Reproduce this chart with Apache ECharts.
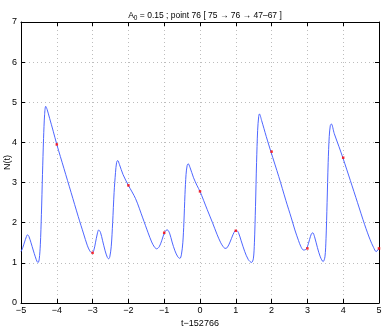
<!DOCTYPE html>
<html>
<head>
<meta charset="utf-8">
<script src="https://cdn.jsdelivr.net/npm/echarts@6/dist/echarts.min.js"></script>
<style>
  html, body { margin: 0; padding: 0; background: #fff; }
  #chart { width: 386px; height: 327px; }
</style>
</head>
<body>
<div id="chart"></div>
<script>
// curve N(t)
const curveT = [
  -5.00, -4.95, -4.90, -4.85, -4.82, -4.78, -4.72, -4.66, -4.60, -4.55, -4.52, -4.49, -4.46, -4.43, -4.40, -4.37, -4.34, -4.31, -4.27, -4.20, -4.10, -4.00,
  -3.80, -3.60, -3.40, -3.25, -3.15, -3.08, -3.02, -2.97, -2.92, -2.87, -2.83, -2.78, -2.72, -2.65, -2.59, -2.55, -2.52, -2.48, -2.44, -2.40, -2.36, -2.33, -2.30, -2.25, -2.15, -2.00,
  -1.80, -1.60, -1.45, -1.35, -1.27, -1.21, -1.14, -1.07, -1.00, -0.95, -0.91, -0.85, -0.78, -0.70, -0.62, -0.56, -0.52, -0.48, -0.45, -0.42, -0.39, -0.36, -0.33, -0.28, -0.18, -0.08, 0.00,
  0.20, 0.35, 0.48, 0.58, 0.65, 0.70, 0.76, 0.84, 0.92, 0.98, 1.02, 1.08, 1.15, 1.25, 1.35, 1.44, 1.49, 1.52, 1.55, 1.58, 1.61, 1.64, 1.66, 1.72, 1.85, 1.98,
  2.20, 2.40, 2.55, 2.65, 2.75, 2.82, 2.89, 2.95, 3.00, 3.06, 3.11, 3.15, 3.20, 3.28, 3.36, 3.44, 3.49, 3.52, 3.55, 3.58, 3.61, 3.64, 3.67, 3.75, 3.88, 3.99,
  4.20, 4.40, 4.60, 4.75, 4.85, 4.92, 5.00
]
const curveN = [
  1.28, 1.38, 1.52, 1.65, 1.70, 1.66, 1.50, 1.32, 1.15, 1.03, 1.01, 1.10, 1.45, 2.20, 3.20, 4.10, 4.70, 4.90, 4.82, 4.60, 4.28, 3.95,
  3.35, 2.75, 2.15, 1.72, 1.44, 1.30, 1.25, 1.30, 1.50, 1.72, 1.82, 1.76, 1.55, 1.30, 1.14, 1.10, 1.15, 1.40, 2.00, 2.75, 3.25, 3.50, 3.55, 3.45, 3.20, 2.93,
  2.60, 2.12, 1.75, 1.52, 1.39, 1.35, 1.40, 1.55, 1.74, 1.81, 1.82, 1.74, 1.52, 1.30, 1.15, 1.11, 1.20, 1.50, 2.00, 2.70, 3.20, 3.42, 3.47, 3.38, 3.12, 2.92, 2.78,
  2.33, 2.00, 1.70, 1.50, 1.40, 1.36, 1.38, 1.52, 1.70, 1.80, 1.81, 1.74, 1.55, 1.28, 1.08, 1.01, 1.10, 1.50, 2.40, 3.50, 4.30, 4.65, 4.71, 4.55, 4.15, 3.77,
  3.15, 2.55, 2.12, 1.82, 1.56, 1.40, 1.32, 1.33, 1.40, 1.58, 1.72, 1.75, 1.65, 1.38, 1.15, 1.03, 1.15, 1.60, 2.50, 3.50, 4.15, 4.42, 4.46, 4.22, 3.90, 3.62,
  3.05, 2.50, 1.95, 1.58, 1.38, 1.28, 1.36
]

// sampled points (red)
const markT = [-4, -3, -2, -1, 0, 1, 2, 3, 4, 5]
const markN = [3.95, 1.25, 2.93, 1.75, 2.78, 1.80, 3.77, 1.36, 3.62, 1.36]

const FONT = 'Liberation Sans, Arial, sans-serif'
const GRID_COL = '#bdbdbd'
const minus = (v) => String(v).replace('-', '\u2212')

const chart = echarts.init(document.getElementById('chart'))

function sideAxis(pos, opts) {
  return Object.assign({
    type: 'value',
    position: pos,
    axisLine: { show: true, onZero: false, lineStyle: { color: '#000', width: 1 } },
    axisTick: { show: true, inside: true, length: 4, lineStyle: { color: '#000' } },
    axisLabel: { show: false },
    splitLine: { show: false },
  }, opts)
}

chart.setOption({
  animation: false,
  title: {
    text: '{t|A}{s|0}{t| = 0.15 ; point 76 [ 75 \u2192 76 \u2192 47\u201367 ]}',
    left: 200,
    textAlign: 'center',
    top: 4,
    textStyle: {
      fontWeight: 'normal',
      rich: {
        t: { fontFamily: FONT, fontSize: 8.5, fontWeight: 'normal', color: '#000' },
        s: { fontFamily: FONT, fontSize: 6.5, fontWeight: 'normal', color: '#000', verticalAlign: 'bottom', padding: [6, 0, 0, 0] },
      },
    },
  },
  grid: { left: 21, right: 7, top: 22, bottom: 24, outerBoundsMode: 'none', containLabel: false },
  xAxis: [
    sideAxis('bottom', {
      min: -5, max: 5, interval: 1,
      name: 't\u2212152766',
      nameLocation: 'middle',
      nameGap: 16,
      nameMoveOverlap: false,
      nameTextStyle: { fontFamily: FONT, fontSize: 9, color: '#000' },
      axisLabel: { show: true, fontFamily: FONT, fontSize: 9, color: '#000', margin: 3, formatter: minus },
      splitLine: { show: true, lineStyle: { color: GRID_COL, type: [1, 3], width: 1 } },
    }),
    sideAxis('top', { min: -5, max: 5, interval: 1 }),
  ],
  yAxis: [
    sideAxis('left', {
      min: 0, max: 7, interval: 1,
      name: 'N(t)',
      nameLocation: 'middle',
      nameGap: 9,
      nameMoveOverlap: false,
      nameTextStyle: { fontFamily: FONT, fontSize: 9, color: '#000' },
      axisLabel: { show: true, fontFamily: FONT, fontSize: 9, color: '#000', margin: 4 },
      splitLine: { show: true, lineStyle: { color: GRID_COL, type: [1, 3], width: 1 } },
    }),
    sideAxis('right', { min: 0, max: 7, interval: 1 }),
  ],
  series: [
    {
      type: 'line',
      data: curveT.map((t, i) => [t, curveN[i]]),
      symbol: 'none',
      smooth: 0.3,
      lineStyle: { color: '#3a55ff', width: 0.9 },
    },
    {
      type: 'scatter',
      data: markT.map((t, i) => [t, markN[i]]),
      symbol: 'rect',
      symbolSize: 2.5,
      itemStyle: { color: '#ff0000' },
      z: 5,
    },
  ],
})
</script>
</body>
</html>
